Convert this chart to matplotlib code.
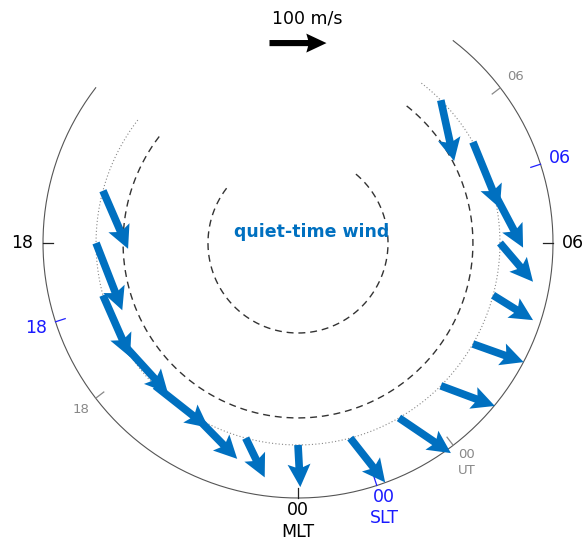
import numpy as np
import matplotlib
matplotlib.use("Agg")
import matplotlib.pyplot as plt

# MLT of each wind vector (tails sit on the satellite track)
MLT_HOURS = [17, 18, 19, 20, 21, 22, 23, 0, 1, 2, 3, 4, 5, 6, 7, 8, 9]
# poleward / eastward wind components, m/s
WIND_NORTH = [69, 46, 18, 25, 14, -27, -58, -74, -91, -99, -92, -93, -79, -58, -25, 17, 59]
WIND_EAST = [87, 118, 117, 114, 118, 97, 50, 4, 39, 48, 42, 17, -24, -68, -110, -124, -92]

# time labels round the rim
MLT_TICKS = [18, 6, 0]
MLT_LABELS = ["18", "06", "00\nMLT"]
SLT_LABELS = ["18", "06", "00\nSLT"]
UT_LABELS = ["18", "06", "00\nUT"]
SLT_SHIFT = 1.2   # hours
UT_SHIFT = 2.5    # hours

# circle radii (outer rim = 1)
R_TRACK = 0.792
R_DASHED = [0.353, 0.686]
MLT_START, MLT_END = 15.5, 33.5   # drawn arc (noon sector left open)

KEY_SPEED = 100
BLUE = "#0070c0"


def mlt_xy(mlt, r):
    phi = np.deg2rad((np.asarray(mlt, dtype=float) - 6) * 15)
    return r * np.cos(phi), r * np.sin(phi), phi


fig = plt.figure(figsize=(5.87, 5.37), dpi=100)
ax = fig.add_axes([0, 0, 1, 1])
ax.set_xlim(-298 / 255, 289 / 255)
ax.set_ylim(-294 / 255, 243 / 255)
ax.set_aspect("equal")
ax.axis("off")

arc = np.linspace(MLT_START, MLT_END, 400)
x, y, _ = mlt_xy(arc, 1.0)
ax.plot(x, y, color="#555555", lw=0.8)
for r in R_DASHED:
    x, y, _ = mlt_xy(arc, r)
    ax.plot(x, y, color="#333333", lw=1.0, ls=(0, (5, 3.5)))
x, y, _ = mlt_xy(arc, R_TRACK)
ax.plot(x, y, color="#888888", lw=0.8, ls=(0, (1, 2)))

# wind vectors
x0, y0, phi = mlt_xy(MLT_HOURS, R_TRACK)
north = np.array(WIND_NORTH, dtype=float)
east = np.array(WIND_EAST, dtype=float)
u = -north * np.cos(phi) - east * np.sin(phi)
v = -north * np.sin(phi) + east * np.cos(phi)
scale = KEY_SPEED / (57 / 255)
ax.quiver(x0, y0, u, v, angles="xy", scale_units="xy", scale=scale,
          units="xy", width=0.03, headwidth=3.0, headlength=3.0,
          headaxislength=2.6, color=BLUE, zorder=3)

# scale arrow
ax.quiver([0.0], [0.784], [KEY_SPEED], [0], angles="xy", scale_units="xy",
          scale=scale, units="xy", width=0.024, headwidth=3.1,
          headlength=3.3, headaxislength=3.0, pivot="middle", color="k")
ax.text(0.035, 0.882, f"{KEY_SPEED} m/s", ha="center", va="center", fontsize=12.5)

ax.text(0.055, 0.043, "quiet-time wind", ha="center", va="center",
        fontsize=12.5, fontweight="bold", color=BLUE)

# rim ticks and labels: MLT, SLT, UT
sets = [
    (0.0, MLT_LABELS, "#222222", "black", 12.5, 1.08),
    (SLT_SHIFT, SLT_LABELS, "#2020ff", "#1a1aff", 12.5, 1.08),
    (UT_SHIFT, UT_LABELS, "#888888", "#888888", 9.5, 1.075),
]
for shift, labels, tick_col, text_col, size, r_lab in sets:
    for hour, lab in zip(MLT_TICKS, labels):
        mlt = hour + shift
        xa, ya, _ = mlt_xy([mlt, mlt], [1.0, 0.96])
        ax.plot(xa, ya, color=tick_col, lw=0.9)
        rr = r_lab + (0.01 if "\n" in lab else 0)
        xt, yt, _ = mlt_xy(mlt, rr)
        ax.text(xt, yt, lab, ha="center", va="center", fontsize=size,
                color=text_col, linespacing=1.25)

fig.savefig("out.png", dpi=100)
